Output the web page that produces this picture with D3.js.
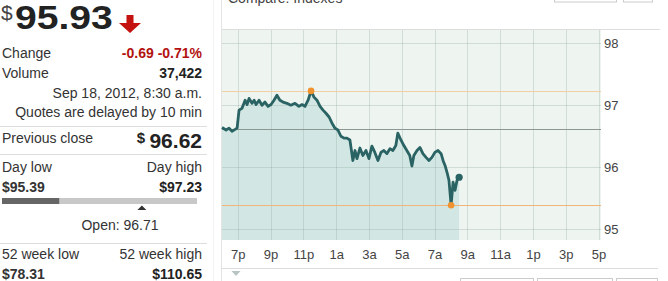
<!DOCTYPE html>
<html><head><meta charset="utf-8">
<script src="https://cdn.jsdelivr.net/npm/d3@7"></script>
<style>body{margin:0;background:#fff;}svg{display:block;font-family:"Liberation Sans",Arial,sans-serif;}</style>
</head><body>
<script>
// hours after 6:00 p.m. (Sep 17) and price
const times = [0.04,0.29,0.47,0.65,0.84,0.96,1.08,1.26,1.45,1.57,1.69,1.87,2.0,2.12,2.30,2.48,2.66,2.85,3.03,3.21,3.39,3.57,3.76,4.0,4.24,4.49,4.73,4.92,5.10,5.29,5.47,5.65,5.83,6.02,6.20,6.38,6.57,6.75,6.93,7.11,7.29,7.48,7.66,7.84,8.02,8.15,8.27,8.45,8.63,8.82,9.0,9.18,9.36,9.55,9.73,9.91,10.09,10.28,10.46,10.64,10.76,10.95,11.13,11.31,11.49,11.62,11.74,11.93,12.11,12.29,12.48,12.66,12.84,13.02,13.21,13.40,13.52,13.64,13.76,13.88,14.01,14.13,14.25,14.37,14.5];
const prices = [96.64,96.60,96.63,96.58,96.61,96.63,96.92,96.95,97.08,97.01,97.11,97.03,97.08,97.01,97.08,97.00,97.05,96.98,97.01,97.08,97.16,97.08,97.05,97.03,97.00,97.03,96.98,97.01,96.98,97.08,97.23,97.13,97.08,96.98,96.92,96.87,96.81,96.71,96.63,96.60,96.50,96.47,96.47,96.44,96.11,96.27,96.14,96.31,96.19,96.27,96.14,96.34,96.24,96.11,96.24,96.27,96.22,96.30,96.27,96.35,96.55,96.44,96.35,96.27,96.19,96.02,96.19,96.27,96.32,96.22,96.16,96.11,96.16,96.24,96.27,96.22,96.11,96.03,95.92,95.79,95.39,95.76,95.63,95.79,95.84];
const xTickHours = [1,3,5,7,9,11,13,15,17,19,21,23];
const xTickLabels = ["7p","9p","11p","1a","3a","5a","7a","9a","11a","1p","3p","5p"];
const yTicks = [95,96,97,98];
const lastPrice = 95.93, change = "-0.69", changePct = "-0.71%", volume = "37,422";
const prevClose = 96.62, dayLow = 95.39, dayHigh = 97.23, openPrice = 96.71;
const wkLow = 78.31, wkHigh = 110.65;
const dateText = "Sep 18, 2012, 8:30 a.m.";

const W = 668, H = 281;
const svg = d3.select("body").append("svg").attr("width", W).attr("height", H);
const txt = "#333", bold = "#222";

// ---------- left panel ----------
const L = svg.append("g");
L.append("text").attr("x", 1).attr("y", 20).attr("font-size", 21).attr("fill", "#444").text("$");
L.append("text").attr("transform", "translate(15,28.5) scale(1.15,1)").attr("font-size", 34).attr("font-weight", "bold").attr("fill", bold)
  .text(lastPrice.toFixed(2));
// red down arrow
L.append("path").attr("d", "M126.5,15 H133.5 V23 H141 L130,33 L119,23 H126.5 Z").attr("fill", "#c3120f");

const fs = 14;
function row(y, left, right, opts = {}) {
  if (left) L.append("text").attr("x", 2).attr("y", y).attr("font-size", fs).attr("fill", txt)
      .attr("font-weight", opts.lb ? "bold" : null).text(left);
  if (right) L.append("text").attr("x", 202).attr("y", y).attr("text-anchor", "end").attr("font-size", fs)
      .attr("font-weight", opts.rb ? "bold" : null).attr("fill", opts.rc || bold).text(right);
}
row(58, "Change", change + " " + changePct, {rb: true, rc: "#b3120f"});
row(78, "Volume", volume, {rb: true});
row(97.5, null, dateText, {rc: txt});
row(117, null, "Quotes are delayed by 10 min", {rc: txt});
const sep = y => L.append("line").attr("x1", 0).attr("x2", 207).attr("y1", y).attr("y2", y).attr("stroke", "#ddd");
sep(126.5);
L.append("text").attr("x", 2).attr("y", 143).attr("font-size", fs).attr("fill", txt).text("Previous close");
L.append("text").attr("x", 202).attr("y", 148).attr("text-anchor", "end").attr("font-size", 21).attr("font-weight", "bold").attr("fill", bold)
  .text(prevClose.toFixed(2));
L.append("text").attr("x", 145).attr("y", 143).attr("text-anchor", "end").attr("font-size", 15).attr("font-weight", "bold").attr("fill", bold).text("$");
sep(154.5);
row(172, "Day low", "Day high", {rc: txt});
row(192, "$" + dayLow.toFixed(2), "$" + dayHigh.toFixed(2), {lb: true, rb: true});
const bar = d3.scaleLinear().domain([dayLow, dayHigh]).range([2, 197]);
L.append("rect").attr("x", 2).attr("y", 198).attr("width", 195).attr("height", 6).attr("fill", "#c8c8c8");
L.append("rect").attr("x", 2).attr("y", 198).attr("width", bar(lastPrice) - 2).attr("height", 6).attr("fill", "#666");
const ox = bar(openPrice);
L.append("path").attr("d", `M${ox - 4.5},210 L${ox},205.5 L${ox + 4.5},210 Z`).attr("fill", "#333");
L.append("text").attr("x", 120).attr("y", 230).attr("text-anchor", "middle").attr("font-size", fs).attr("fill", txt)
  .text("Open: " + openPrice.toFixed(2));
sep(243.5);
row(259, "52 week low", "52 week high", {rc: txt});
row(278.5, "$" + wkLow.toFixed(2), "$" + wkHigh.toFixed(2), {lb: true, rb: true});
svg.append("line").attr("x1", 213.5).attr("x2", 213.5).attr("y1", 0).attr("y2", H).attr("stroke", "#f2f2f2");

// ---------- chart ----------
const px0 = 222, px1 = 601, py0 = 30, py1 = 240;
const x = d3.scaleLinear().domain([0.04, 23.15]).range([px0, px1]);
const y = d3.scaleLinear().domain([94.83, 98.21]).range([py1, py0]);
const data = times.map((t, i) => ({t, p: prices[i]}));

svg.append("text").attr("x", 228).attr("y", 2.5).attr("font-size", 14).attr("fill", "#444").text("Compare: Indexes");
svg.append("rect").attr("x", 554.5).attr("y", -5).attr("width", 62).attr("height", 7).attr("fill", "#fff").attr("stroke", "#ccc");
svg.append("rect").attr("x", 623.5).attr("y", -5).attr("width", 29).attr("height", 7).attr("fill", "#fff").attr("stroke", "#ccc");
svg.append("line").attr("x1", 221).attr("x2", 660).attr("y1", 29.5).attr("y2", 29.5).attr("stroke", "#ddd");
svg.append("line").attr("x1", 221.5).attr("x2", 221.5).attr("y1", 0).attr("y2", H).attr("stroke", "#e4e4e4");

svg.append("rect").attr("x", px0).attr("y", py0).attr("width", px1 - px0).attr("height", py1 - py0).attr("fill", "#eef5f1");
const area = d3.area().x(d => x(d.t)).y0(py1).y1(d => y(d.p));
svg.append("path").datum(data).attr("d", area).attr("fill", "#d2e7e3");

const grid = svg.append("g").attr("stroke", "rgba(150,175,165,0.35)");
xTickHours.forEach(h => grid.append("line").attr("x1", Math.round(x(h)) + 0.5).attr("x2", Math.round(x(h)) + 0.5).attr("y1", py0).attr("y2", py1));
yTicks.forEach(v => grid.append("line").attr("x1", px0).attr("x2", px1).attr("y1", Math.round(y(v)) + 0.5).attr("y2", Math.round(y(v)) + 0.5));

const hl = (v, c) => svg.append("line").attr("x1", px0).attr("x2", px1).attr("y1", Math.round(y(v)) + 0.5).attr("y2", Math.round(y(v)) + 0.5).attr("stroke", c);
hl(prevClose, "#8c9692");
hl(dayHigh, "#f3cf9f");
hl(dayLow, "#f1b57a");

const line = d3.line().x(d => x(d.t)).y(d => y(d.p));
svg.append("path").datum(data).attr("d", line).attr("fill", "none").attr("stroke", "#2a6363").attr("stroke-width", 2.8).attr("stroke-linejoin", "round");

const hiIdx = d3.maxIndex(prices), loIdx = d3.minIndex(prices);
[hiIdx, loIdx].forEach(i => svg.append("circle").attr("cx", x(times[i])).attr("cy", y(prices[i])).attr("r", 3.3).attr("fill", "#ee9330"));
const li = times.length - 1;
svg.append("circle").attr("cx", x(times[li])).attr("cy", y(prices[li])).attr("r", 3.6).attr("fill", "#2a6363");

// axes
const xa = svg.append("g").attr("transform", `translate(0,${py1})`)
  .call(d3.axisBottom(x).tickValues(xTickHours).tickFormat((d, i) => xTickLabels[i]).tickSize(0).tickPadding(10));
xa.select(".domain").remove();
xa.selectAll("text").attr("font-size", 13).attr("fill", "#444").attr("font-family", "Liberation Sans, Arial, sans-serif");
const ya = svg.append("g").attr("transform", `translate(${px1},0)`)
  .call(d3.axisRight(y).tickValues(yTicks).tickFormat(d3.format("d")).tickSize(0).tickPadding(3));
ya.select(".domain").remove();
ya.selectAll("text").attr("font-size", 13).attr("fill", "#444").attr("font-family", "Liberation Sans, Arial, sans-serif");

// bottom controls
svg.append("line").attr("x1", 221).attr("x2", 658).attr("y1", 268.5).attr("y2", 268.5).attr("stroke", "#ddd");
svg.append("path").attr("d", "M231.5,271 L240.5,271 L236,276 Z").attr("fill", "#b8c4c4");
[[460, 73], [537, 75], [616, 41]].forEach(([bx, bw]) =>
  svg.append("rect").attr("x", bx + 0.5).attr("y", 278.5).attr("width", bw).attr("height", 10).attr("fill", "#fff").attr("stroke", "#ccc"));
</script>
</body></html>
